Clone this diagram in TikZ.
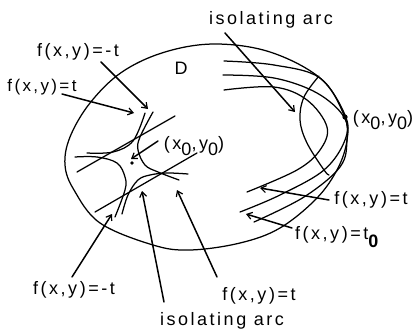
\documentclass[tikz,border=0pt]{standalone}
\usepackage{fontspec}
\setmainfont[LetterSpace=14]{Liberation Sans}
\usetikzlibrary{arrows.meta}
\newcommand{\lowz}{\raisebox{-0.3em}{0}}
\newcommand{\lowbold}{\raisebox{-0.45em}{\textbf{0}}}
\tikzset{
  lab/.style={inner sep=0pt,anchor=center,font=\fontsize{18}{18}\selectfont,text=black},
  curve/.style={line width=1.25pt,line cap=round,line join=round,draw=black},
  pointer/.style={line width=1.5pt,line cap=round,draw=black,-{Straight Barb[length=5pt,width=7pt,line width=1.2pt]}}
}
\begin{document}
\begin{tikzpicture}[x=1pt,y=-1pt]
\useasboundingbox (0,0) rectangle (417,332);
% region D
\draw[curve] plot[smooth cycle,tension=0.6] coordinates {(215,44) (270,52) (320,78) (345,115) (347,140) (338,168) (317,198) (280,228) (240,243) (190,250) (153,245) (100,223) (74,190) (65,165) (70,137) (90,103) (122,72) (165,52)};
% right family
\draw[curve] plot[smooth,tension=0.6] coordinates {(224,61) (274,65) (320,78) (344,115) (347,140) (340,167) (304,197) (254,222)};
\draw[curve] plot[smooth,tension=0.6] coordinates {(223,75) (274,78) (317,93) (344,117) (345,140) (324,170) (280,195) (240,212)};
\draw[curve] plot[smooth,tension=0.6] coordinates {(224,90) (274,87) (307,100) (327,127) (320,150) (297,170) (247,192)};
\draw[curve] plot[smooth,tension=0.6] coordinates {(319,76) (304,97) (300,120) (307,143) (324,170) (329,175)};
\fill (345,117) circle (2.6pt);
% saddle
\draw[curve] plot[smooth,tension=0.6] coordinates {(145,113) (133,141) (113,152) (87,153)};
\draw[curve] plot[smooth,tension=0.6] coordinates {(153,112) (140,137) (138,150) (145,165) (158,172) (179,180)};
\draw[curve] (175,116) -- (77,172);
\draw[curve] plot[smooth,tension=0.6] coordinates {(75,157) (97,157) (117,163) (125,177) (125,190) (115,217)};
\draw[curve] (95,212) -- (197,153);
\draw[curve] plot[smooth,tension=0.6] coordinates {(122,214) (128,195) (138,180) (150,175) (167,173) (188,174)};
\fill (132,163) circle (1.8pt);
% labels
\node[lab] (topminus) at (78,52) {f(x,y)=-t};
\node[lab,font=\fontsize{17}{17}\selectfont] (topplus) at (42,87) {f(x,y)=t};
\node[lab] (dname) at (181,68) {D};
\node[lab] (centre) at (194,146) {(x\lowz,y\lowz)};
\node[lab] (rim) at (383,120) {(x\lowz,y\lowz)};
\node[lab] (isotop) at (271,20) {isolating arc};
\node[lab] (rightt) at (371,200) {f(x,y)=t};
\node[lab] (rightz) at (338,237) {f(x,y)=t\lowbold};
\node[lab] (botminus) at (74,290) {f(x,y)=-t};
\node[lab] (bott) at (259,296) {f(x,y)=t};
\node[lab] (isobot) at (222,321) {isolating arc};
% arrow ends
\coordinate (a1s) at (101,62); \coordinate (a1e) at (148,109);
\coordinate (a2s) at (62,94); \coordinate (a2e) at (134,113);
\coordinate (a3s) at (158,141); \coordinate (a3e) at (131,159);
\coordinate (a4s) at (225,33); \coordinate (a4e) at (295,112);
\coordinate (a5s) at (329,200); \coordinate (a5e) at (260,188);
\coordinate (a6s) at (292,228); \coordinate (a6e) at (246,214);
\coordinate (a7s) at (72,277); \coordinate (a7e) at (112,214);
\coordinate (a8s) at (164,302); \coordinate (a8e) at (142,191);
\coordinate (a9s) at (217,277); \coordinate (a9e) at (177,190);
\foreach \n in {1,...,9} \draw[pointer] (a\n s) -- (a\n e);
\end{tikzpicture}
\end{document}
